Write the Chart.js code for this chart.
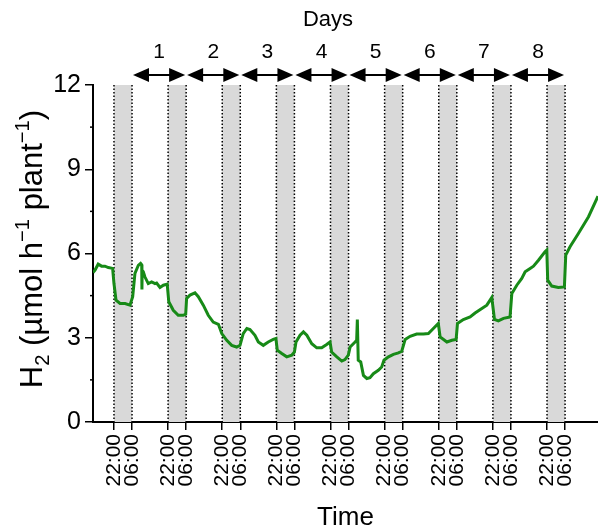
<!DOCTYPE html>
<html>
<head>
<meta charset="utf-8">
<script src="https://cdn.jsdelivr.net/npm/chart.js@4.4.1/dist/chart.umd.min.js"></script>
<style>
  html, body { margin: 0; padding: 0; background: #fff; }
</style>
</head>
<body>
<canvas id="h2-chart" width="598" height="528"></canvas>
<script>
// --- DATOS ---
// hours counted from midnight of day 0 (22 = first 22:00)
const hours = [
  12.7, 13.6, 15.0, 16.5, 18.0, 19.5, 21.4, 22.0, 22.9, 24.7,
  26.9, 29.1, 30.3, 31.3, 32.8, 33.8, 34.3, 34.4, 34.5, 35.0,
  35.7, 37.2, 38.7, 40.2, 40.9, 42.4, 43.9, 45.6, 46.3, 48.3,
  50.5, 52.7, 53.8, 54.2, 55.7, 57.9, 59.4, 61.6, 63.8, 66.0,
  68.3, 69.8, 72.0, 74.2, 76.4, 77.9, 79.3, 80.9, 82.3, 84.5,
  86.0, 88.2, 90.4, 92.6, 93.8, 94.4, 96.4, 98.6, 100.8, 102.0,
  102.7, 104.5, 106.0, 107.5, 109.7, 111.9, 114.1, 116.3, 117.8, 118.5,
  120.8, 123.0, 124.4, 125.9, 126.7, 128.9, 129.6, 129.9, 130.3, 131.4,
  132.6, 134.1, 135.5, 137.0, 139.2, 140.7, 141.7, 143.7, 145.9, 148.1,
  149.6, 151.1, 153.3, 156.2, 159.2, 161.4, 163.6, 165.8, 166.6, 169.6,
  171.8, 173.7, 174.3, 176.9, 179.9, 182.1, 185.1, 187.3, 189.5, 190.7,
  192.4, 194.7, 197.6, 198.4, 200.6, 202.8, 204.3, 206.5, 208.0, 210.2,
  213.1, 213.9, 214.3, 216.1, 219.0, 221.7, 222.3, 224.2, 227.9, 232.4,
  236.6
];
const h2Rate = [
  5.32, 5.41, 5.62, 5.55, 5.55, 5.50, 5.47, 4.93, 4.34, 4.22,
  4.22, 4.16, 4.46, 5.29, 5.58, 5.65, 5.60, 4.72, 5.40, 5.35,
  5.17, 4.93, 4.99, 4.93, 4.95, 4.79, 4.87, 4.91, 4.28, 3.98,
  3.80, 3.80, 3.84, 4.40, 4.52, 4.60, 4.46, 4.16, 3.80, 3.56,
  3.48, 3.15, 2.91, 2.73, 2.67, 2.73, 3.15, 3.33, 3.29, 3.09,
  2.85, 2.73, 2.85, 2.94, 2.97, 2.56, 2.44, 2.32, 2.38, 2.49,
  2.85, 3.09, 3.21, 3.09, 2.79, 2.64, 2.64, 2.76, 2.85, 2.49,
  2.32, 2.17, 2.22, 2.38, 2.67, 2.85, 2.91, 3.65, 2.20, 2.14,
  1.66, 1.55, 1.58, 1.72, 1.84, 1.96, 2.20, 2.32, 2.41, 2.46,
  2.52, 2.94, 3.05, 3.13, 3.13, 3.15, 3.33, 3.51, 3.03, 2.85,
  2.91, 2.94, 3.51, 3.65, 3.74, 3.88, 4.04, 4.16, 4.43, 3.65,
  3.60, 3.69, 3.74, 4.58, 4.87, 5.11, 5.35, 5.47, 5.55, 5.76,
  6.06, 6.12, 5.05, 4.84, 4.79, 4.81, 5.94, 6.24, 6.71, 7.31,
  8.04
];

// noches (22:00 -> 06:00)
const nightStart = [22, 46, 70, 94, 118, 142, 166, 190, 214];
const nightEnd   = [30, 54, 78, 102, 126, 150, 174, 198, 222];

// dias (flechas de 06:00 a 06:00)
const dayLabels = ['1', '2', '3', '4', '5', '6', '7', '8'];
const dayStart  = [30, 54, 78, 102, 126, 150, 174, 198];
const dayEnd    = [54, 78, 102, 126, 150, 174, 198, 222];

const yTicks = [0, 3, 6, 9, 12];
const yMinorTicks = [1.5, 4.5, 7.5, 10.5];
const xMin = 12.7, xMax = 236.6;

const FONT = '"Liberation Sans", Arial, sans-serif';

// --- PLUGIN: bandas nocturnas + lineas punteadas ---
const nightBands = {
  id: 'nightBands',
  beforeDatasetsDraw(chart) {
    const { ctx, chartArea, scales: { x } } = chart;
    ctx.save();
    nightStart.forEach((s, i) => {
      const x1 = x.getPixelForValue(s);
      const x2 = x.getPixelForValue(nightEnd[i]);
      ctx.fillStyle = '#d9d9d9';
      ctx.fillRect(x1, chartArea.top, x2 - x1, chartArea.bottom - chartArea.top);
      ctx.strokeStyle = '#000';
      ctx.lineWidth = 1.5;
      ctx.setLineDash([1.5, 2]);
      [x1, x2].forEach(px => {
        ctx.beginPath();
        ctx.moveTo(px, chartArea.top);
        ctx.lineTo(px, chartArea.bottom);
        ctx.stroke();
      });
    });
    ctx.restore();
  }
};

// --- PLUGIN: flechas de dias, titulos, ticks menores ---
function drawRich(ctx, parts, size) {
  // parts: [text, mode] mode: 0 normal, 1 sub, 2 sup
  let w = 0;
  parts.forEach(([t, m]) => {
    ctx.font = (m ? size * 0.65 : size) + 'px ' + FONT;
    w += ctx.measureText(t).width;
  });
  let cx = -w / 2;
  parts.forEach(([t, m]) => {
    ctx.font = (m ? size * 0.65 : size) + 'px ' + FONT;
    const dy = m === 1 ? size * 0.22 : (m === 2 ? -size * 0.42 : 0);
    ctx.fillText(t, cx, dy);
    cx += ctx.measureText(t).width;
  });
}

const decorations = {
  id: 'decorations',
  afterDraw(chart) {
    const { ctx, chartArea, scales: { x, y } } = chart;
    ctx.save();
    ctx.fillStyle = '#000';
    ctx.strokeStyle = '#000';

    // minor y ticks
    ctx.lineWidth = 1.5;
    yMinorTicks.forEach(v => {
      const py = y.getPixelForValue(v);
      ctx.beginPath();
      ctx.moveTo(chartArea.left - 3, py);
      ctx.lineTo(chartArea.left, py);
      ctx.stroke();
    });

    // day arrows
    const ay = 75, head = 16, hh = 7;
    dayLabels.forEach((lab, i) => {
      const x1 = x.getPixelForValue(dayStart[i]) + 1;
      const x2 = x.getPixelForValue(dayEnd[i]) - 1;
      ctx.lineWidth = 2;
      ctx.beginPath();
      ctx.moveTo(x1 + head - 2, ay);
      ctx.lineTo(x2 - head + 2, ay);
      ctx.stroke();
      ctx.beginPath();
      ctx.moveTo(x1, ay); ctx.lineTo(x1 + head, ay - hh); ctx.lineTo(x1 + head, ay + hh); ctx.closePath();
      ctx.fill();
      ctx.beginPath();
      ctx.moveTo(x2, ay); ctx.lineTo(x2 - head, ay - hh); ctx.lineTo(x2 - head, ay + hh); ctx.closePath();
      ctx.fill();
      ctx.font = '21px ' + FONT;
      ctx.textAlign = 'center';
      ctx.textBaseline = 'alphabetic';
      ctx.fillText(lab, (x1 + x2) / 2, 58);
    });

    ctx.font = '22px ' + FONT;
    ctx.textAlign = 'center';
    ctx.fillText('Days', 328, 26);

    // x title
    ctx.font = '26px ' + FONT;
    ctx.fillText('Time', (chartArea.left + chartArea.right) / 2, 525);

    // y title
    ctx.save();
    ctx.translate(42, 249);
    ctx.rotate(-Math.PI / 2);
    ctx.textAlign = 'left';
    drawRich(ctx, [['H', 0], ['2', 1], [' (\u00b5mol h', 0], ['\u22121', 2], [' plant', 0], ['\u22121', 2], [')', 0]], 31);
    ctx.restore();

    ctx.restore();
  }
};

new Chart(document.getElementById('h2-chart').getContext('2d'), {
  type: 'line',
  data: {
    datasets: [{
      data: hours.map((t, i) => ({ x: t, y: h2Rate[i] })),
      borderColor: '#178a17',
      borderWidth: 3,
      pointRadius: 0,
      tension: 0,
      fill: false
    }]
  },
  options: {
    responsive: false,
    animation: false,
    devicePixelRatio: 1,
    layout: { padding: { top: 85, left: 0, right: 0, bottom: 0 } },
    plugins: { legend: { display: false }, tooltip: { enabled: false } },
    scales: {
      x: {
        type: 'linear', min: xMin, max: xMax,
        afterBuildTicks: s => {
          const t = [];
          nightStart.forEach((v, i) => { t.push({ value: v }); t.push({ value: nightEnd[i] }); });
          s.ticks = t;
        },
        afterFit: s => { s.height = 106; },
        grid: { drawOnChartArea: false, drawTicks: true, tickLength: 8, color: '#000', lineWidth: 1.5 },
        border: { color: '#000', width: 2 },
        ticks: {
          autoSkip: false, maxRotation: 90, minRotation: 90, padding: 4,
          color: '#000', font: { family: FONT, size: 21 },
          callback: v => (Math.round(v) % 24 === 22 ? '22:00' : '06:00')
        }
      },
      y: {
        min: 0, max: 12,
        afterBuildTicks: s => { s.ticks = yTicks.map(v => ({ value: v })); },
        afterFit: s => { s.width = 93; },
        grid: { drawOnChartArea: false, drawTicks: true, tickLength: 8, color: '#000', lineWidth: 1.5 },
        border: { color: '#000', width: 2 },
        ticks: { padding: 4, color: '#000', font: { family: FONT, size: 25 } }
      }
    }
  },
  plugins: [nightBands, decorations]
});
</script>
</body>
</html>
